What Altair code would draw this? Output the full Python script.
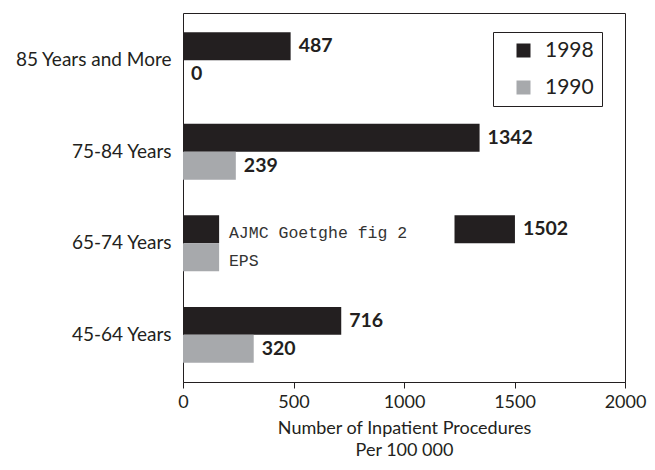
import altair as alt
import pandas as pd

ages = ["85 Years and More", "75-84 Years", "65-74 Years", "45-64 Years"]
years = ["1998", "1990"]
v1998 = [487, 1342, 1502, 716]
v1990 = [0, 239, 620, 320]
x_ticks = [0, 500, 1000, 1500, 2000]
colors = ["#231f20", "#a7a9ac"]

# white annotation box that hides part of the 65-74 group in the original
cover_age = ["65-74 Years"]
cover_x = [168]
cover_x2 = [1224]
wm_years = ["1998", "1990"]
wm_text = ["AJMC Goetghe fig 2", "EPS"]
wm_x = [208, 208]

FONT = "Lato"
INK = "#231f20"

rows = []
for a, b, c in zip(ages, v1998, v1990):
    rows.append({"age": a, "year": "1998", "value": b, "label": str(b)})
    rows.append({"age": a, "year": "1990", "value": c, "label": str(c)})
df = pd.DataFrame(rows)

cover = pd.DataFrame({"age": cover_age, "x": cover_x, "x2": cover_x2})
wm = pd.DataFrame({"age": ["65-74 Years"] * 2, "year": wm_years, "text": wm_text, "x": wm_x})

yenc = alt.Y("age:N", sort=ages, title=None,
             scale=alt.Scale(paddingInner=0.39, paddingOuter=0.21),
             axis=alt.Axis(ticks=False, domain=False, labelFont=FONT, labelFontSize=19,
                           labelColor=INK, labelPadding=12, labelLimit=300))
yoff = alt.YOffset("year:N", sort=years, scale=alt.Scale(paddingInner=0, paddingOuter=0))
xscale = alt.Scale(domain=[0, 2000], nice=False)
xaxis = alt.Axis(values=x_ticks, grid=False, tickSize=6, tickColor=INK, domainColor=INK,
                 format="d",
                 labelFont=FONT, labelFontSize=18, labelColor=INK, labelPadding=5,
                 title=["Number of Inpatient Procedures", "Per 100 000"],
                 titleFont=FONT, titleFontSize=18, titleFontWeight="normal",
                 titleColor=INK, titlePadding=8, titleLineHeight=22, labelFlush=False)

bars = alt.Chart(df).mark_bar().encode(
    x=alt.X("value:Q", scale=xscale, axis=xaxis),
    y=yenc,
    yOffset=yoff,
    color=alt.Color("year:N", sort=years,
                    scale=alt.Scale(domain=years, range=colors),
                    legend=alt.Legend(orient="none", legendX=310, legendY=19, title=None,
                                      symbolType="square", symbolSize=196,
                                      symbolStrokeWidth=0,
                                      labelFont=FONT, labelFontSize=21, labelColor=INK,
                                      strokeColor=INK, fillColor="white",
                                      padding=8, rowPadding=15, labelOffset=11,
                                      symbolOffset=12)),
)

labels = alt.Chart(df).mark_text(align="left", baseline="middle", dx=8, font=FONT,
                                 fontSize=19.5, fontWeight="bold", color=INK).encode(
    x=alt.X("value:Q", scale=xscale),
    y=alt.Y("age:N", sort=ages),
    yOffset=yoff,
    text="label:N",
)

box = alt.Chart(cover).mark_rect(color="white", stroke="white", strokeWidth=2).encode(
    x=alt.X("x:Q", scale=xscale),
    x2="x2:Q",
    y=alt.Y("age:N", sort=ages),
)

wmtext = alt.Chart(wm).mark_text(align="left", baseline="middle", dy=4,
                                 font="Liberation Mono", fontSize=16.5, color="#333333").encode(
    x=alt.X("x:Q", scale=xscale),
    y=alt.Y("age:N", sort=ages),
    yOffset=yoff,
    text="text:N",
)

chart = alt.layer(bars, labels, box, wmtext).properties(
    width=442, height=369,
    padding={"left": 175, "top": 5, "right": 22, "bottom": 80},
    autosize=alt.AutoSizeParams(type="none"),
).configure_view(stroke=INK, strokeWidth=1)

chart.save("out.html", embed_options={"renderer": "svg", "actions": False})
